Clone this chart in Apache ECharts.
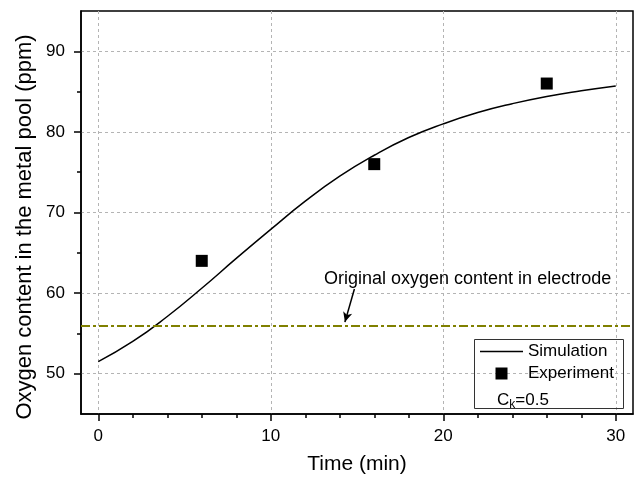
<!DOCTYPE html>
<html>
<head>
<meta charset="utf-8">
<script src="https://cdn.jsdelivr.net/npm/echarts@6/dist/echarts.min.js"></script>
<style>html,body{margin:0;padding:0;background:#fff;}#c{width:642px;height:480px;}</style>
</head>
<body>
<div id="c"></div>
<script>
// ---- data ----
const simTime = [0, 2, 4, 6, 8, 10, 12, 14, 16, 18, 20, 22, 24, 26, 28, 30];
const simValue = [51.5, 54.0, 57.1, 60.6, 64.3, 67.9, 71.4, 74.5, 77.1, 79.3, 81.0, 82.4, 83.5, 84.4, 85.1, 85.7];
const expTime = [6, 16, 26];
const expValue = [64, 76, 86];
const originalOxygen = 56;
const xMajorTicks = [0, 10, 20, 30];
const xMinorTicks = [2, 4, 6, 8, 12, 14, 16, 18, 22, 24, 26, 28];
const yMajorTicks = [50, 60, 70, 80, 90];
const yMinorTicks = [55, 65, 75, 85];
const arrowFrom = [14.85, 60.5];
const arrowTo = [14.3, 56.4];

const FONT = '"Liberation Sans", Arial, sans-serif';
const chart = echarts.init(document.getElementById('c'), null, {renderer: 'canvas'});

const xMin = -1, xMax = 31, yMin = 45, yMax = 95;
const gridSplit = {show: true, lineStyle: {color: '#b4b4b4', type: [3, 3], width: 1}};

chart.setOption({
  backgroundColor: '#fff',
  animation: false,
  grid: {left: 81, right: 9, top: 11, bottom: 64, show: true, borderColor: '#000', borderWidth: 1.5, backgroundColor: 'transparent'},
  xAxis: [{
    type: 'value', min: xMin, max: xMax, position: 'bottom',
    name: 'Time (min)', nameLocation: 'middle', nameGap: 40,
    nameTextStyle: {fontFamily: FONT, fontSize: 21, color: '#000'},
    axisLine: {show: true, onZero: false, lineStyle: {color: '#000', width: 1.5}},
    axisTick: {show: true, inside: false, length: 7, customValues: xMajorTicks, lineStyle: {color: '#000', width: 1.5}},
    axisLabel: {customValues: xMajorTicks, margin: 14, fontFamily: FONT, fontSize: 17, color: '#000'},
    splitLine: gridSplit
  }, {
    type: 'value', min: xMin, max: xMax, position: 'bottom',
    axisLine: {show: false, onZero: false},
    axisTick: {show: true, length: 4, customValues: xMinorTicks, lineStyle: {color: '#000', width: 1.5}},
    axisLabel: {show: false},
    splitLine: {show: false}
  }],
  yAxis: [{
    type: 'value', min: yMin, max: yMax, position: 'left',
    axisLine: {show: true, onZero: false, lineStyle: {color: '#000', width: 1.5}},
    axisTick: {show: true, length: 7, customValues: yMajorTicks, lineStyle: {color: '#000', width: 1.5}},
    axisLabel: {customValues: yMajorTicks, margin: 16, fontFamily: FONT, fontSize: 17, color: '#000'},
    splitLine: gridSplit
  }, {
    type: 'value', min: yMin, max: yMax, position: 'left',
    axisLine: {show: false, onZero: false},
    axisTick: {show: true, length: 4, customValues: yMinorTicks, lineStyle: {color: '#000', width: 1.5}},
    axisLabel: {show: false},
    splitLine: {show: false}
  }],
  legend: {
    orient: 'vertical', left: 480, top: 343, padding: 0, itemWidth: 43, itemHeight: 12, itemGap: 5,
    symbolKeepAspect: true,
    textStyle: {fontFamily: FONT, fontSize: 17, color: '#000'},
    data: [
      {name: 'Simulation', icon: 'path://M0,0h43v1.5h-43z', itemStyle: {color: '#000'}},
      {name: 'Experiment', icon: 'path://M0,0h10v10h-10z', itemStyle: {color: '#000'}}
    ]
  },
  graphic: [
    {type: 'rect', left: 474, top: 339, shape: {width: 149, height: 69}, style: {fill: 'rgba(0,0,0,0)', stroke: '#333', lineWidth: 1}, z: 5},
    {type: 'text', left: 497, top: 392, z: 6, style: {
      text: 'C{sub|k}=0.5', fontFamily: FONT, fontSize: 17, fill: '#000',
      rich: {sub: {fontFamily: FONT, fontSize: 12, fill: '#000', padding: [8, 0, 0, 0]}}
    }},
    {type: 'text', left: 324, top: 270, z: 6, style: {
      text: 'Original oxygen content in electrode', fontFamily: FONT, fontSize: 18, fill: '#000'
    }},
    {type: 'text', x: 25, y: 227, rotation: Math.PI / 2, z: 6, style: {
      text: 'Oxygen content in the metal pool (ppm)', fontFamily: FONT, fontSize: 22, fill: '#000',
      align: 'center', verticalAlign: 'middle'
    }}
  ],
  series: [{
    name: 'Simulation', type: 'line', smooth: true, symbol: 'none',
    xAxisIndex: 0, yAxisIndex: 0,
    data: simTime.map((t, i) => [t, simValue[i]]),
    lineStyle: {color: '#000', width: 1.5},
    itemStyle: {color: '#000'},
    z: 3,
    markLine: {
      silent: true, animation: false,
      data: [
        {yAxis: originalOxygen, symbol: 'none', lineStyle: {color: '#808000', width: 2, type: [9, 3, 3, 3]}, label: {show: false}},
        [{coord: arrowFrom, symbol: 'none'}, {coord: arrowTo, symbol: 'arrow', symbolSize: [7, 10]}]
      ],
      symbol: ['none', 'none'],
      lineStyle: {color: '#000', width: 1.5, type: 'solid'},
      label: {show: false}
    }
  }, {
    name: 'Experiment', type: 'scatter', symbol: 'rect', symbolSize: 12,
    xAxisIndex: 0, yAxisIndex: 0,
    data: expTime.map((t, i) => [t, expValue[i]]),
    itemStyle: {color: '#000', opacity: 1},
    z: 4
  }]
});
</script>
</body>
</html>
